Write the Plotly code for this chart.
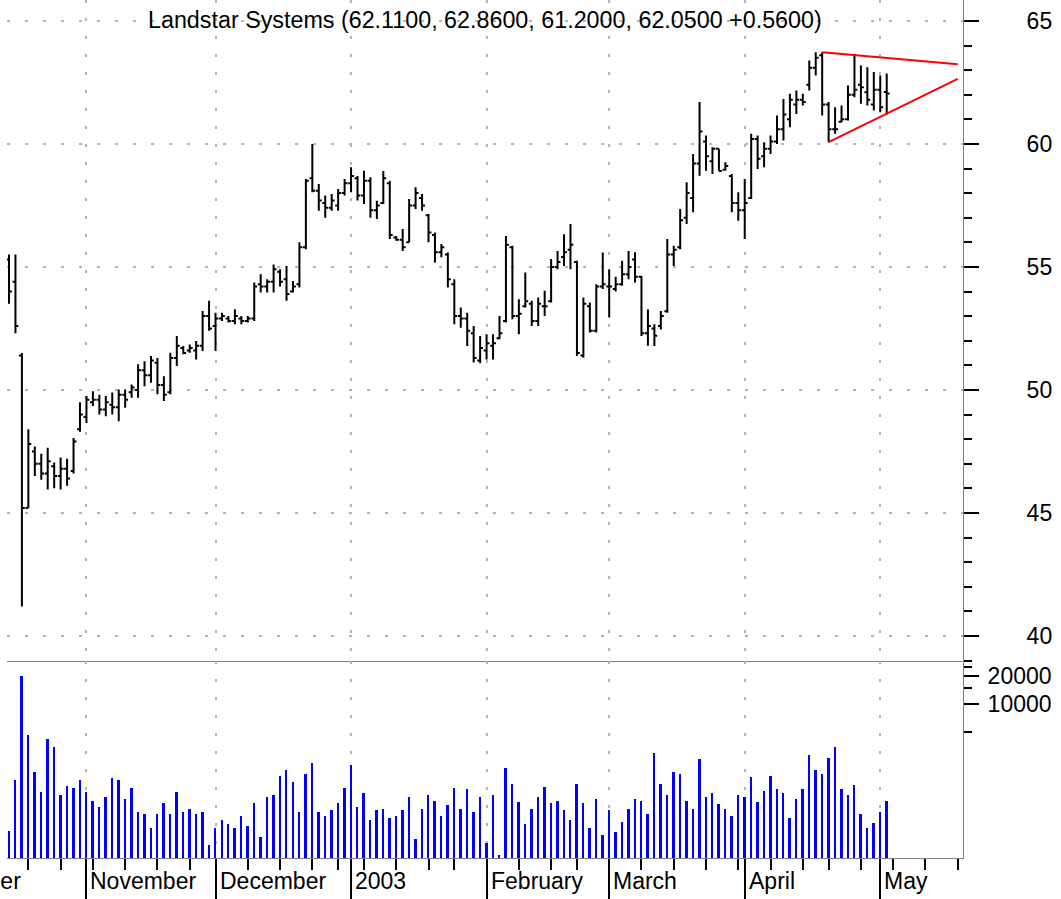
import plotly.graph_objects as go

title_text = "Landstar Systems (62.1100, 62.8600, 61.2000, 62.0500 +0.5600)"

# daily bars, 16 Oct 2002 .. 2 May 2003 (trading-day index)
open_ = [55.3, 54.4, 51.4, 45.2, 47.5, 47.0, 46.6, 46.9, 46.5, 46.8,
         46.7, 48.4, 48.9, 49.5, 49.6, 49.2, 49.4, 49.3, 49.8, 49.9,
         50.0, 50.8, 50.6, 51.1, 50.2, 49.9, 51.3, 51.7, 51.6, 51.6,
         51.8, 53.0, 52.6, 52.9, 52.9, 52.8, 52.9, 52.8, 52.9, 54.3,
         54.2, 54.4, 54.8, 54.5, 54.0, 54.3, 55.8, 58.6, 58.1, 57.6,
         57.4, 57.5, 58.0, 58.4, 58.6, 57.9, 58.5, 57.3, 57.6, 58.4,
         56.2, 56.1, 56.0, 57.5, 57.8, 57.1, 56.3, 55.6, 55.5, 54.3,
         53.0, 52.9, 52.3, 51.2, 51.6, 51.8, 52.1, 52.8, 55.8, 53.0,
         53.4, 53.5, 52.8, 53.4, 53.6, 55.0, 55.4, 55.7, 55.2, 51.4,
         53.4, 52.4, 54.2, 54.2, 54.1, 54.3, 54.7, 55.3, 54.6, 52.3,
         52.5, 52.6, 53.2, 55.5, 55.8, 57.0, 57.8, 59.2, 60.1, 59.3,
         59.8, 58.95, 58.7, 57.6, 57.3, 57.8, 60.2, 59.5, 59.8, 60.1,
         60.6, 61.0, 61.6, 61.8, 62.4, 63.1, 63.6, 61.6, 60.6, 60.9,
         61.0, 62.0, 62.4, 62.1, 61.6, 62.2, 62.11]
high = [55.5, 55.5, 51.5, 48.4, 47.7, 47.4, 47.65, 47.05, 47.25, 47.2,
        48.05, 49.5, 49.75, 49.95, 49.8, 49.75, 49.89, 50.02, 50.02, 50.22,
        51.04, 51.17, 51.38, 51.3, 50.56, 51.51, 52.19, 51.78, 51.85, 51.99,
        53.21, 53.62, 53.14, 53.14, 53.0, 53.28, 53.0, 53.0, 54.37, 54.7,
        54.5, 55.1, 54.9, 55.04, 54.43, 56.0, 58.57, 60.0, 58.37, 57.9,
        57.96, 58.17, 58.57, 59.05, 58.7, 58.91, 58.64, 57.69, 58.9, 58.5,
        56.26, 56.54, 57.76, 58.24, 57.96, 57.15, 56.4, 55.93, 55.59, 54.5,
        53.35, 53.14, 52.6, 52.19, 52.26, 52.26, 53.0, 56.26, 55.86, 53.69,
        54.77, 53.62, 53.76, 54.03, 55.32, 55.65, 56.33, 56.74, 55.25, 53.76,
        53.55, 54.3, 55.59, 54.9, 54.6, 55.25, 55.65, 55.6, 54.63, 53.28,
        52.67, 53.21, 56.13, 55.86, 57.35, 58.44, 59.59, 61.7, 60.34, 59.86,
        59.8, 59.25, 58.78, 58.03, 58.57, 60.41, 60.34, 60.07, 60.34, 61.15,
        61.83, 62.04, 62.17, 62.04, 63.39, 63.73, 63.73, 61.7, 61.49, 61.56,
        62.37, 63.67, 63.19, 63.12, 62.92, 62.78, 62.86]
low = [53.5, 52.3, 41.2, 45.2, 46.5, 46.35, 45.95, 46.0, 45.95, 46.1,
       46.6, 48.3, 48.65, 49.35, 49.0, 48.93, 49.0, 48.73, 49.27, 49.68,
       49.68, 50.15, 50.29, 49.82, 49.55, 49.82, 50.97, 51.45, 51.51, 51.24,
       51.58, 52.4, 51.58, 52.8, 52.74, 52.67, 52.67, 52.74, 52.8, 53.96,
       53.96, 53.96, 54.2, 53.62, 53.96, 54.16, 55.72, 58.03, 57.28, 57.0,
       57.28, 57.28, 57.9, 58.03, 57.7, 57.56, 57.0, 56.95, 57.56, 56.13,
       56.06, 55.65, 56.0, 57.35, 57.28, 56.0, 55.18, 55.39, 54.16, 52.67,
       52.53, 51.78, 51.11, 51.08, 51.24, 51.24, 52.06, 52.74, 52.87, 52.26,
       53.35, 52.6, 52.6, 53.0, 53.55, 54.9, 55.04, 54.9, 51.38, 51.31,
       52.33, 52.33, 54.1, 52.94, 54.0, 54.23, 54.5, 54.37, 52.19, 51.8,
       51.78, 52.46, 53.14, 55.04, 55.72, 56.74, 57.22, 58.71, 58.91, 58.78,
       58.91, 58.91, 57.22, 56.88, 56.13, 57.76, 58.98, 59.05, 59.59, 60.0,
       60.14, 60.68, 61.22, 61.56, 62.17, 62.78, 61.15, 60.07, 60.41, 60.88,
       60.95, 61.9, 61.63, 61.56, 61.36, 61.29, 61.2]
close = [54.0, 52.6, 45.2, 47.8, 47.0, 46.6, 47.1, 46.5, 46.8, 46.4,
         47.9, 49.0, 49.6, 49.6, 49.2, 49.5, 49.3, 49.8, 49.6, 50.1,
         50.8, 50.6, 51.2, 50.2, 49.8, 51.3, 51.8, 51.5, 51.7, 51.8,
         53.0, 52.5, 52.9, 53.0, 52.8, 53.0, 52.8, 52.9, 54.2, 54.2,
         54.4, 54.9, 54.4, 53.9, 54.2, 55.8, 58.5, 58.1, 57.7, 57.4,
         57.7, 58.0, 58.4, 58.7, 57.9, 58.5, 57.3, 57.5, 58.6, 56.3,
         56.1, 55.8, 57.5, 58.0, 57.5, 56.4, 55.6, 55.8, 54.5, 53.0,
         52.9, 52.4, 51.3, 51.7, 51.9, 51.9, 52.3, 55.9, 53.0, 53.1,
         53.6, 52.8, 53.5, 53.4, 55.0, 55.2, 55.6, 55.9, 51.5, 53.5,
         52.4, 54.2, 54.3, 54.2, 54.3, 54.7, 55.0, 54.6, 52.3, 52.6,
         52.2, 53.0, 55.5, 55.7, 56.9, 58.0, 59.2, 60.5, 59.5, 59.8,
         58.9, 59.1, 57.6, 57.3, 57.6, 60.2, 59.4, 59.8, 60.1, 60.6,
         61.2, 61.8, 61.8, 61.7, 63.1, 63.5, 61.6, 60.6, 60.6, 61.0,
         62.0, 62.2, 62.3, 61.8, 62.2, 61.49, 62.05]
volume = [441, 1566, 20100, 4680, 1892, 1175, 4246, 3490, 1076, 1362,
          1297, 1566, 1175, 935, 814, 1023, 1644, 1566, 975, 1297,
          703, 670, 483, 670, 891, 670, 1175, 703, 774, 670,
          703, 316, 483, 583, 529, 483, 644, 507, 891, 381,
          1023, 1076, 1726, 1985, 1489, 703, 1811, 2393, 703, 644,
          738, 891, 1297, 2275, 814, 1130, 583, 738, 774, 613,
          644, 738, 1023, 363, 774, 1076, 935, 644, 849, 1297,
          774, 1236, 703, 1023, 332, 1076, 245, 2084, 1429, 920,
          533, 774, 1033, 1309, 891, 935, 738, 583, 1429, 891,
          483, 975, 400, 738, 438, 556, 774, 975, 935, 670,
          3034, 1429, 1076, 1892, 1815, 935, 774, 2636, 1040, 1130,
          855, 769, 648, 1084, 1040, 1671, 898, 1186, 1738, 1247,
          1130, 612, 984, 1247, 2911, 2000, 1815, 2667, 3516, 1247,
          1084, 1374, 681, 486, 537, 710, 935]
day = list(range(len(close)))
assert len(open_) == len(high) == len(low) == len(close) == len(volume) == 137

# calendar scaffolding (trading-day index of first session of each month / week)
month_labels = ["October", "November", "December", "2003", "February", "March", "April", "May"]
month_start = [-11, 12, 32, 53, 74, 93, 114, 135]
week_start = [3, 8, 13, 18, 23, 28, 37, 42, 47, 51, 55, 60, 65, 69, 79, 84, 88,
              98, 103, 108, 113, 118, 123, 127, 132, 137, 142, 147]

price_ticks = [40, 45, 50, 55, 60, 65]
vol_ticks = [10000, 20000]
vol_minor_ticks = [5000, 15000, 25000]

# triangle (wedge) trendlines
wedge_upper_x = [126, 147]
wedge_upper_y = [63.73, 63.24]
wedge_lower_x = [127, 147]
wedge_lower_y = [60.07, 62.64]

FONT = "Liberation Sans, Arial, sans-serif"
GRID = dict(showgrid=True, gridcolor="#b4b4b4", gridwidth=1.5, griddash="3px,15px")
XR = [-0.31, 147.82]
VOL_FRAC = 0.2296

fig = go.Figure()
fig.add_trace(go.Ohlc(x=day, open=open_, high=high, low=low, close=close,
                      increasing=dict(line=dict(color="black", width=2)),
                      decreasing=dict(line=dict(color="black", width=2)),
                      tickwidth=0.45, xaxis="x", yaxis="y", hoverinfo="skip",
                      showlegend=False))
fig.add_trace(go.Scatter(x=wedge_upper_x, y=wedge_upper_y, mode="lines",
                         line=dict(color="#ff0000", width=2), xaxis="x", yaxis="y",
                         showlegend=False, hoverinfo="skip"))
fig.add_trace(go.Scatter(x=wedge_lower_x, y=wedge_lower_y, mode="lines",
                         line=dict(color="#ff0000", width=2), xaxis="x", yaxis="y",
                         showlegend=False, hoverinfo="skip"))
fig.add_trace(go.Bar(x=day, y=volume, width=0.3, marker=dict(color="#0000ff", line=dict(width=0)),
                     xaxis="x2", yaxis="y2", showlegend=False, hoverinfo="skip"))

month_grid = month_start[1:]

fig.update_layout(
    width=1061, height=899,
    margin=dict(l=7, r=98, t=0, b=41),
    paper_bgcolor="white", plot_bgcolor="white",
    font=dict(family=FONT, size=23, color="black"),
    bargap=0,
    xaxis=dict(domain=[0, 1], anchor="y", range=XR, tickvals=month_grid,
               ticks="", showticklabels=False, showline=True, linecolor="#808080",
               linewidth=1, zeroline=False, rangeslider=dict(visible=False), **GRID),
    yaxis=dict(domain=[VOL_FRAC, 1], anchor="x", side="right", range=[38.98, 65.85],
               tickvals=price_ticks, ticks="outside", ticklen=15, tickwidth=2,
               tickcolor="black", ticklabelstandoff=43, showline=True,
               linecolor="#808080", linewidth=1, zeroline=False,
               tickfont=dict(size=23),
               minor=dict(tickmode="linear", tick0=0, dtick=1, ticks="outside",
                          ticklen=8, tickwidth=2, tickcolor="black", showgrid=False),
               **GRID),
    xaxis2=dict(domain=[0, 1], anchor="y2", range=XR, matches="x", tickvals=month_grid,
                ticks="outside", ticklen=41, tickwidth=2, tickcolor="black",
                showticklabels=False, showline=True, linecolor="#808080", linewidth=1,
                zeroline=False,
                minor=dict(tickvals=week_start, ticks="outside", ticklen=11,
                           tickwidth=2, tickcolor="black", showgrid=False),
                **GRID),
    yaxis2=dict(domain=[0, VOL_FRAC], anchor="x2", side="right", type="log",
                range=[2.362, 4.4606], tickvals=vol_ticks,
                ticktext=[str(v) for v in vol_ticks], ticks="outside", ticklen=15,
                tickwidth=2, tickcolor="black", ticklabelstandoff=4,
                showline=True, linecolor="#808080", linewidth=1, showgrid=False,
                zeroline=False, tickfont=dict(size=23),
                minor=dict(tickvals=vol_minor_ticks, ticks="outside", ticklen=8,
                           tickwidth=2, tickcolor="black", showgrid=False)),
)

# title inside the price panel
fig.add_annotation(text=title_text, xref="paper", yref="paper", x=0.5, y=1 - 20 / 858,
                   xanchor="center", yanchor="middle", showarrow=False,
                   font=dict(size=23.3, family=FONT, color="black"))

# month labels to the right of each month line
for lab, m in zip(month_labels, month_start):
    px = (m - XR[0]) / (XR[1] - XR[0])
    fig.add_annotation(text=lab, xref="paper", yref="paper", x=px, y=-23 / 858,
                       xanchor="left", yanchor="middle", xshift=-1 if m < 0 else 2,
                       showarrow=False, font=dict(size=23, family=FONT, color="black"))

fig.write_html("out.html", config={"displayModeBar": False},
               post_script="document.body.style.margin='0';document.body.style.overflow='hidden';")
